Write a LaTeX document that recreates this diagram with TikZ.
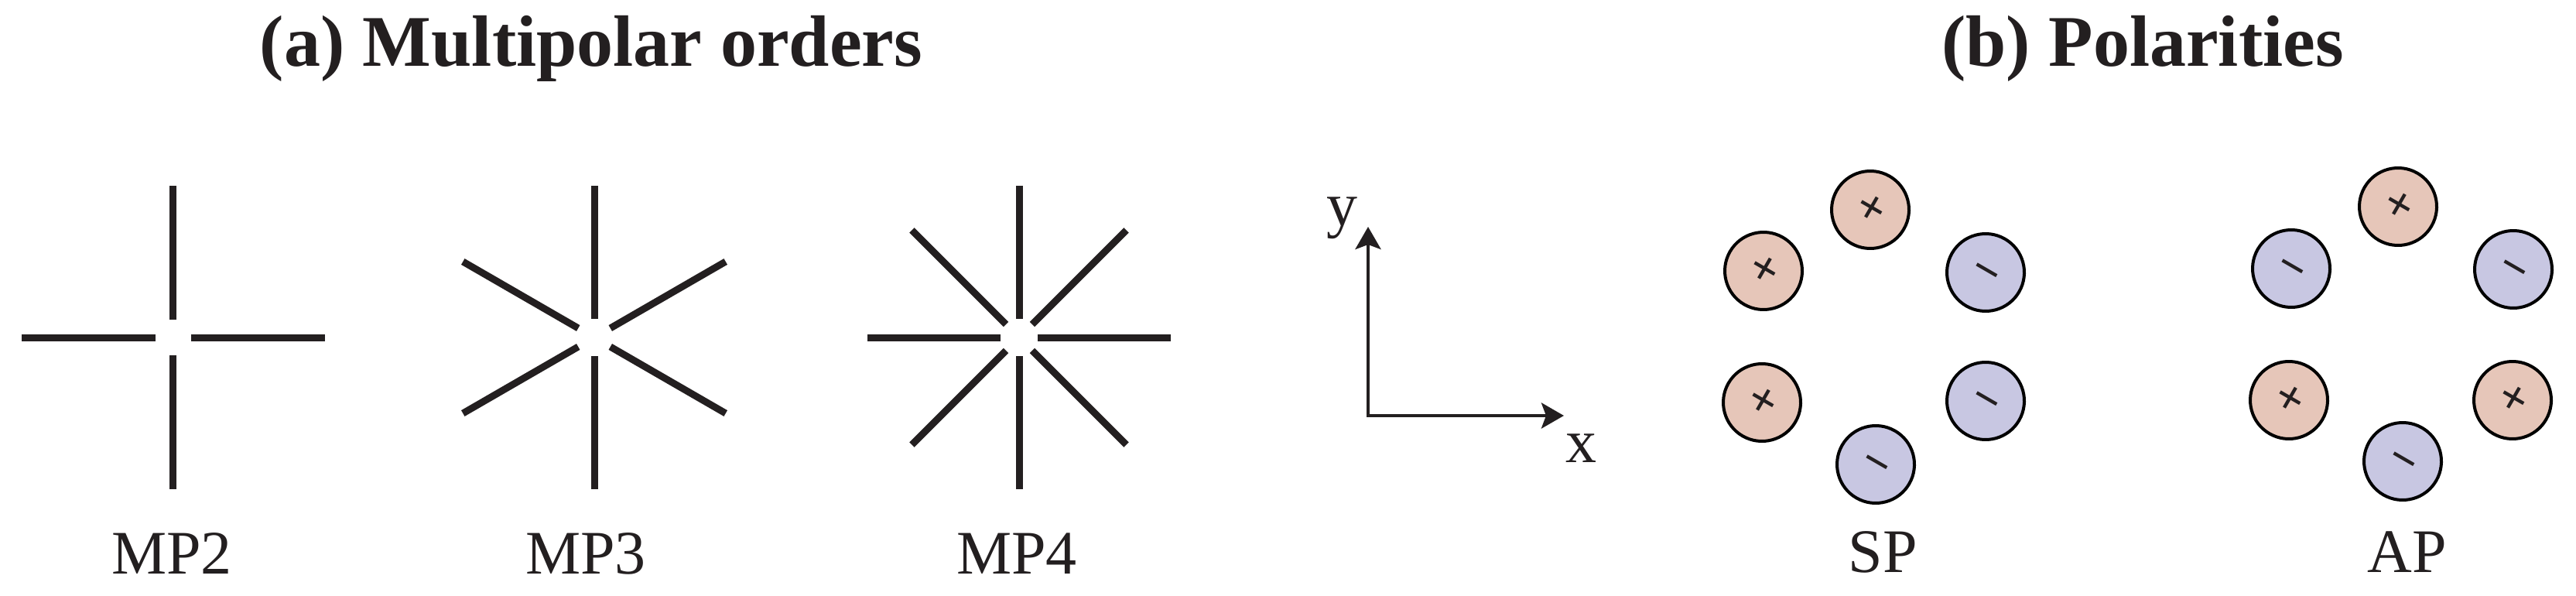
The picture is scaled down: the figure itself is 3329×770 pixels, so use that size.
\documentclass[tikz,border=0pt]{standalone}
\usepackage{fontspec}
\setmainfont{Liberation Serif}
\usetikzlibrary{arrows.meta}
\definecolor{ink}{HTML}{231F20}
\definecolor{pinkfill}{HTML}{E6C6B9}
\definecolor{bluefill}{HTML}{C8C7E2}
\tikzset{
  armline/.style={line width=9pt, draw=ink, line cap=butt},
  polecirc/.style={circle, draw=black, line width=4pt, minimum size=100pt, inner sep=0pt,
    font=\bfseries\fontsize{64}{68}\selectfont, text=ink, rotate=-30},
  poscirc/.style={polecirc, fill=pinkfill},
  negcirc/.style={polecirc, fill=bluefill},
  mytitle/.style={font=\bfseries\fontsize{94}{100}\selectfont, text=ink, anchor=base, inner sep=0pt},
  mylab/.style={font=\fontsize{80}{90}\selectfont, text=ink, anchor=base, inner sep=0pt},
  axisline/.style={line width=4.7pt, draw=ink, {Stealth[length=29pt,width=33pt,inset=6pt]}-{Stealth[length=29pt,width=33pt,inset=6pt]}}
}
\begin{document}
\begin{tikzpicture}[x=1pt,y=-1pt]
\useasboundingbox (0,0) rectangle (3329,770);
% titles
\node[mytitle] (ta) at (764,86) {(a) Multipolar orders};
\node[mytitle] (tb) at (2769,86) {(b) Polarities};
% MP2
\coordinate (mp2) at (223.5,436);
\foreach \a in {0,90,180,270} \draw[armline,shift={(mp2)}] (\a:23) -- (\a:196);
% MP3
\coordinate (mp3) at (768,436);
\foreach \a in {30,90,150,210,270,330} \draw[armline,shift={(mp3)}] (\a:24) -- (\a:196);
% MP4
\coordinate (mp4) at (1317,436);
\foreach \a in {0,45,...,315} \draw[armline,shift={(mp4)}] (\a:24) -- (\a:196);
% labels
\node[mylab] (l2) at (222,741) {MP2};
\node[mylab] (l3) at (757,741) {MP3};
\node[mylab] (l4) at (1314,741) {MP4};
\node[mylab] (lsp) at (2433,739) {SP};
\node[mylab] (lap) at (3111,739) {AP};
% axes
\coordinate (orig) at (1768,537);
\coordinate (ytip) at (1768,293);
\coordinate (xtip) at (2021,537);
\draw[axisline] (ytip) -- (orig) -- (xtip);
\node[mylab] (ly) at (1734,291) {y};
\node[mylab] (lx) at (2043,597) {x};
% SP
\node[poscirc] (sp1) at (2417,271) {\vphantom{+}+};
\node[poscirc] (sp2) at (2279,350) {\vphantom{+}+};
\node[negcirc] (sp3) at (2566,352) {\vphantom{+}−};
\node[poscirc] (sp4) at (2277,520) {\vphantom{+}+};
\node[negcirc] (sp5) at (2566,518) {\vphantom{+}−};
\node[negcirc] (sp6) at (2424,600) {\vphantom{+}−};
% AP
\node[poscirc] (ap1) at (3099,267) {\vphantom{+}+};
\node[negcirc] (ap2) at (2961,347) {\vphantom{+}−};
\node[negcirc] (ap3) at (3248,348) {\vphantom{+}−};
\node[poscirc] (ap4) at (2958,517) {\vphantom{+}+};
\node[poscirc] (ap5) at (3247,517) {\vphantom{+}+};
\node[negcirc] (ap6) at (3105,596) {\vphantom{+}−};
\end{tikzpicture}
\end{document}
